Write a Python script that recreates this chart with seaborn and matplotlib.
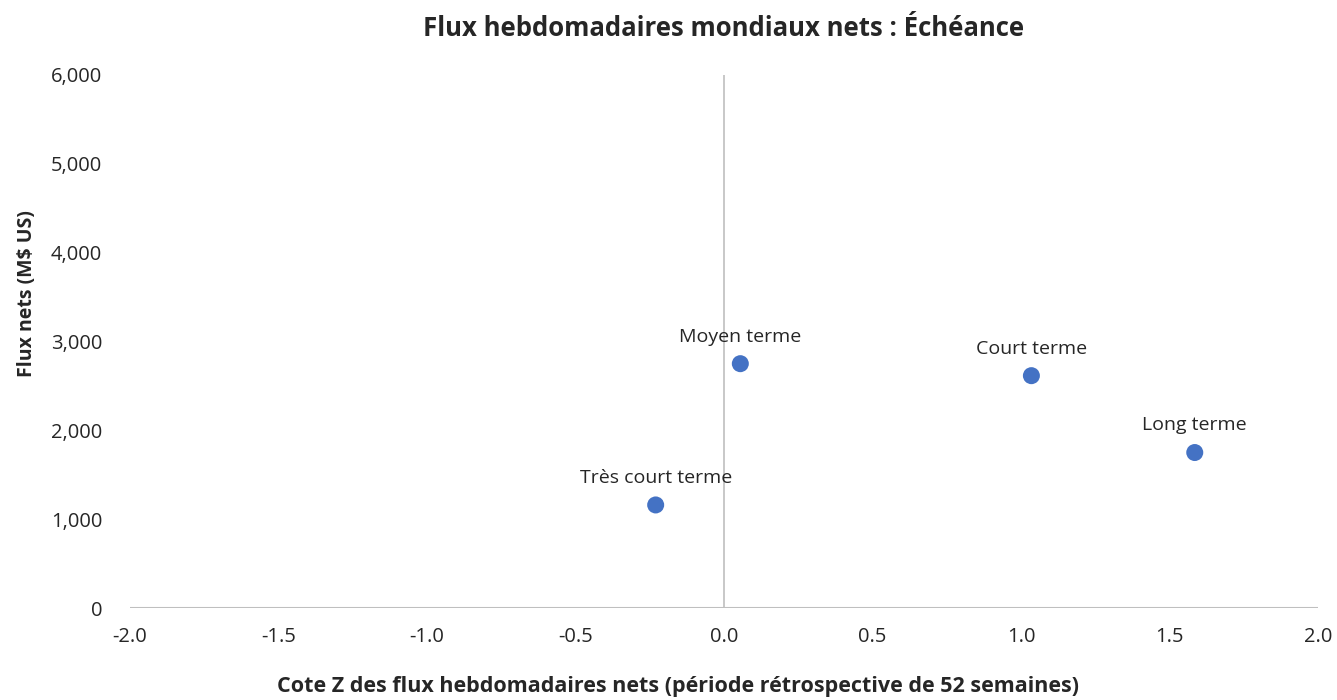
import matplotlib
matplotlib.use("Agg")
import matplotlib.pyplot as plt
import seaborn as sns
import pandas as pd
from matplotlib.ticker import FuncFormatter

categories = ["Très court terme", "Moyen terme", "Court terme", "Long terme"]
z_scores = [-0.23, 0.055, 1.035, 1.585]
net_flows = [1160, 2750, 2615, 1750]

df = pd.DataFrame({"cat": categories, "z": z_scores, "flow": net_flows})

sns.set_theme(style="white")
plt.rcParams['font.family'] = ['Open Sans', 'DejaVu Sans']

fig = plt.figure(figsize=(13.37, 7.0), dpi=100)
ax = fig.add_axes([0.0972, 0.1314, 0.8886, 0.7616])

ax.axvline(0, color="#bfbfbf", lw=1.2, zorder=1)
ax.axhline(0, color="#bfbfbf", lw=1.5, zorder=1)

sns.scatterplot(data=df, x="z", y="flow", ax=ax, color="#4472C4", s=150,
                edgecolor="none", zorder=3, legend=False)

for _, r in df.iterrows():
    ax.annotate(r["cat"], (r["z"], r["flow"]), xytext=(0, 13),
                textcoords="offset points", ha="center", va="bottom",
                fontsize=14, color="#262626")

ax.set_xlim(-2.0, 2.0)
ax.set_ylim(0, 6000)
ax.set_xticks([-2.0, -1.5, -1.0, -0.5, 0.0, 0.5, 1.0, 1.5, 2.0])
ax.set_yticks(range(0, 6001, 1000))
ax.xaxis.set_major_formatter(FuncFormatter(lambda v, p: f"{v:.1f}"))
ax.yaxis.set_major_formatter(FuncFormatter(lambda v, p: f"{int(v):,}"))
ax.tick_params(axis="x", labelsize=14.5, colors="#262626", length=0, pad=14)
ax.tick_params(axis="y", labelsize=14.5, colors="#262626", length=0, pad=20)
for s in ax.spines.values():
    s.set_visible(False)

ax.set_xlabel("Cote Z des flux hebdomadaires nets (période rétrospective de 52 semaines)",
              fontsize=15.5, fontweight="bold", color="#262626")
ax.xaxis.set_label_coords(0.461, -0.128)
ax.set_ylabel("Flux nets (M$ US)", fontsize=14, fontweight="bold", color="#262626")
ax.yaxis.set_label_coords(-0.078, 0.589)
ax.set_title("Flux hebdomadaires mondiaux nets : Échéance", fontsize=18.5,
             fontweight="bold", color="#262626", pad=28)

fig.savefig("out.png", dpi=100)
